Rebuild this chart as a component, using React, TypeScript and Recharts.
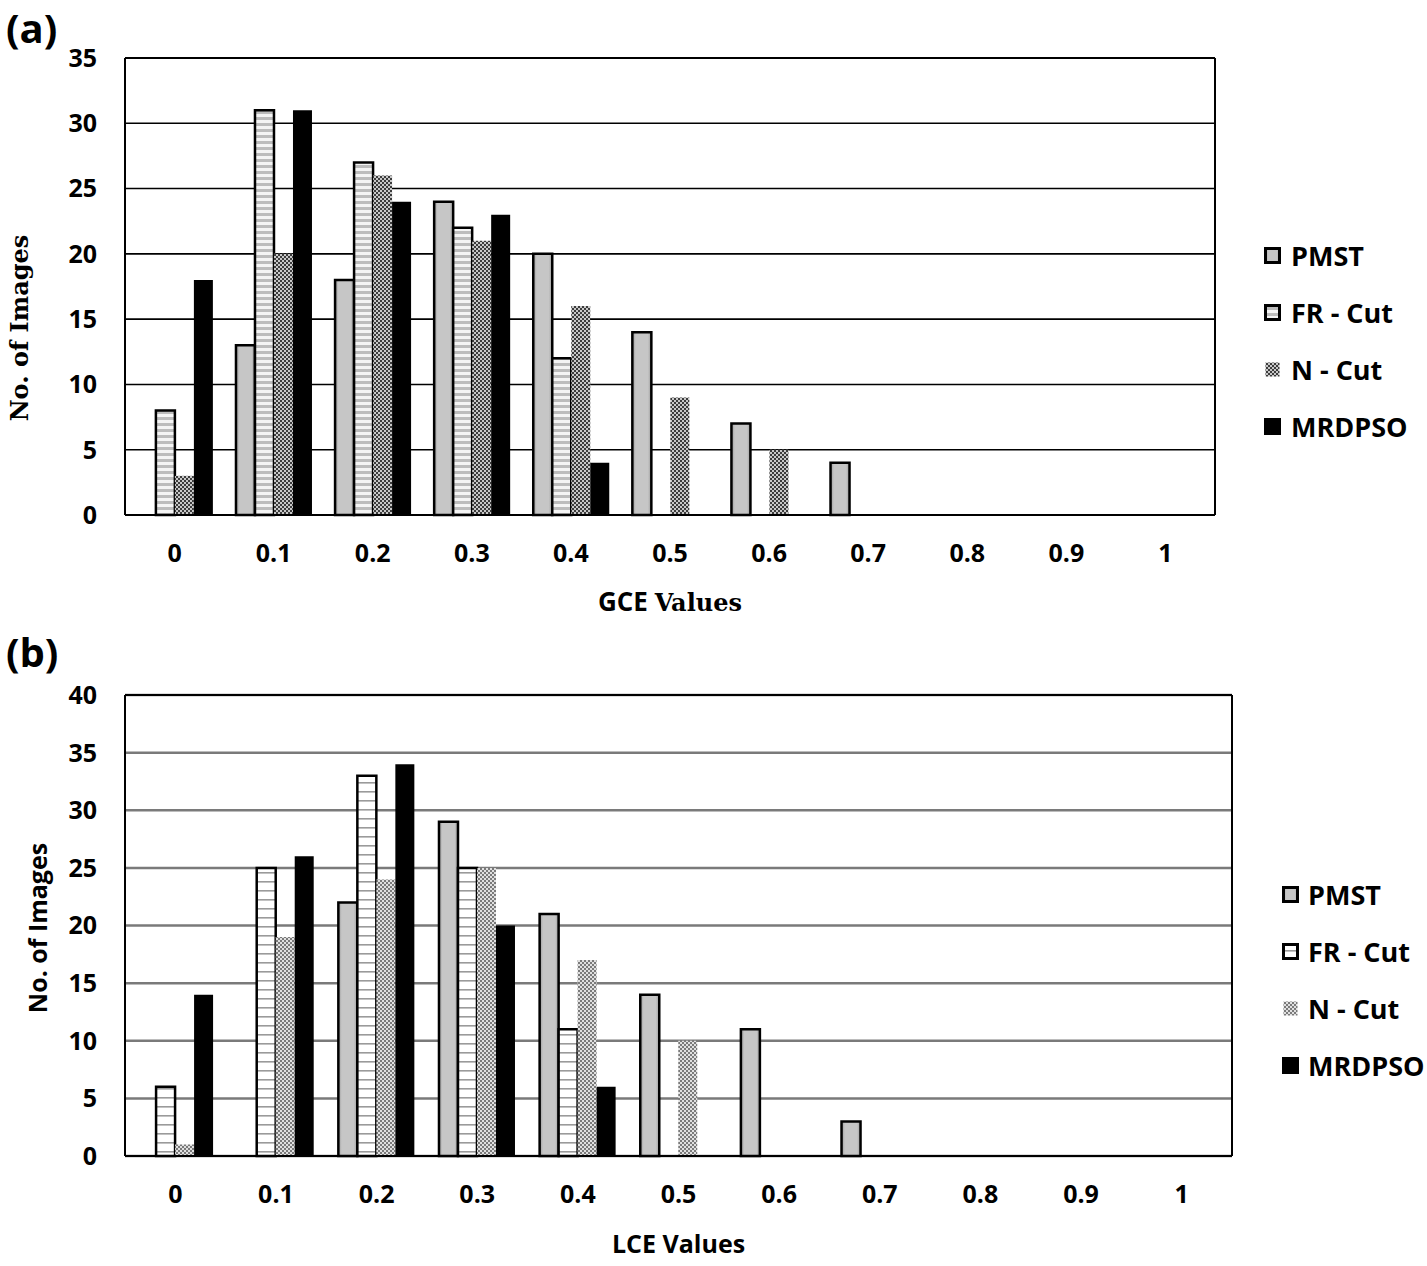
import React from 'react';
import { BarChart, Bar, XAxis, YAxis, CartesianGrid, Legend, ReferenceLine, Label } from 'recharts';

const categories = ['0', '0.1', '0.2', '0.3', '0.4', '0.5', '0.6', '0.7', '0.8', '0.9', '1'];
const seriesNames = ['PMST', 'FR - Cut', 'N - Cut', 'MRDPSO'];

// (a) GCE
const gcePMST = [0, 13, 18, 24, 20, 14, 7, 4, 0, 0, 0];
const gceFR = [8, 31, 27, 22, 12, 0, 0, 0, 0, 0, 0];
const gceNCut = [3, 20, 26, 21, 16, 9, 5, 0, 0, 0, 0];
const gceMRDPSO = [18, 31, 24, 23, 4, 0, 0, 0, 0, 0, 0];
const gceTicks = [0, 5, 10, 15, 20, 25, 30, 35];

// (b) LCE
const lcePMST = [0, 0, 22, 29, 21, 14, 11, 3, 0, 0, 0];
const lceFR = [6, 25, 33, 25, 11, 0, 0, 0, 0, 0, 0];
const lceNCut = [1, 19, 24, 25, 17, 10, 0, 0, 0, 0, 0];
const lceMRDPSO = [14, 26, 34, 20, 6, 0, 0, 0, 0, 0, 0];
const lceTicks = [0, 5, 10, 15, 20, 25, 30, 35, 40];

const SANS = '"Open Sans", Lato, sans-serif';
const SERIF = '"DejaVu Serif", serif';

const buildRows = (a: number[], b: number[], c: number[], d: number[]) =>
  categories.map((cat, i) => ({ cat, pmst: a[i], fr: b[i], ncut: c[i], mrdpso: d[i] }));

const gceData = buildRows(gcePMST, gceFR, gceNCut, gceMRDPSO);
const lceData = buildRows(lcePMST, lceFR, lceNCut, lceMRDPSO);

const Patterns = ({ id, light }: { id: string; light?: boolean }) => (
  <defs>
    <linearGradient id={`${id}-pmst`} x1="0" y1="0" x2="1" y2="0">
      <stop offset="0%" stopColor="#9a9a9a" />
      <stop offset="18%" stopColor="#c6c6c6" />
      <stop offset="82%" stopColor="#c6c6c6" />
      <stop offset="100%" stopColor="#9a9a9a" />
    </linearGradient>
    {light ? (
      <pattern id={`${id}-fr`} patternUnits="userSpaceOnUse" width="8" height="9">
        <rect width="8" height="9" fill="#fff" />
        <rect y="7" width="8" height="1.6" fill="#9a9a9a" />
      </pattern>
    ) : (
      <pattern id={`${id}-fr`} patternUnits="userSpaceOnUse" width="8" height="6">
        <rect width="8" height="6" fill="#f4f4f4" />
        <rect y="3" width="8" height="3" fill="#bcbcbc" />
      </pattern>
    )}
    <pattern id={`${id}-ncut`} patternUnits="userSpaceOnUse" width="4" height="4">
      <rect width="4" height="4" fill={light ? '#e0e0e0' : '#c8c8c8'} />
      <rect width="2" height="2" fill={light ? '#7a7a7a' : '#3c3c3c'} />
      <rect x="2" y="2" width="2" height="2" fill={light ? '#7a7a7a' : '#3c3c3c'} />
    </pattern>
  </defs>
);

const LegendList = ({ id, left, fontSize }: { id: string; left: number; fontSize: number }) => {
  const fills = [`url(#${id}-pmst)`, `url(#${id}-fr)`, `url(#${id}-ncut)`, '#000'];
  const strokes = ['#000', '#000', 'none', '#000'];
  return (
    <div style={{ display: 'flex', flexDirection: 'column' }}>
      {seriesNames.map((n, i) => (
        <div key={n} style={{ display: 'flex', alignItems: 'center', height: 57 }}>
          <svg width={17} height={17} style={{ display: 'block' }}>
            <rect x={1.5} y={1.5} width={14} height={14} fill={fills[i]} stroke={strokes[i]} strokeWidth={3} />
          </svg>
          <span style={{ marginLeft: left, fontFamily: SANS, fontWeight: 700, fontSize, color: '#000' }}>{n}</span>
        </div>
      ))}
    </div>
  );
};

type PanelProps = {
  id: string;
  data: any[];
  ticks: number[];
  height: number;
  margin: { top: number; right: number; bottom: number; left: number };
  light?: boolean;
  gridStroke: string;
  gridWidth: number;
  xLabel: React.ReactNode;
  xLabelDy: number;
  yLabel: React.ReactNode;
  legendPos: { left: number; top: number };
};

const Panel = (p: PanelProps) => {
  const max = p.ticks[p.ticks.length - 1];
  return (
    <BarChart
      width={1427}
      height={p.height}
      data={p.data}
      margin={p.margin}
      barCategoryGap="12%"
      barGap={0}
    >
      <Patterns id={p.id} light={p.light} />
      <CartesianGrid vertical={false} stroke={p.gridStroke} strokeWidth={p.gridWidth} />
      <CartesianGrid
        horizontal={false}
        stroke="#000"
        strokeWidth={2}
        verticalCoordinatesGenerator={({ offset }: any) => [offset.left + offset.width]}
      />
      <ReferenceLine y={max} stroke="#000" strokeWidth={2} />
      <XAxis
        dataKey="cat"
        interval={0}
        tickLine={false}
        axisLine={{ stroke: '#000', strokeWidth: 2 }}
        tickMargin={23}
        height={60}
        tick={{ fontFamily: SANS, fontWeight: 700, fontSize: 25, fill: '#000' }}
      >
        <Label
          content={({ viewBox }: any) => (
            <text
              x={viewBox.x + viewBox.width / 2}
              y={viewBox.y + p.xLabelDy}
              textAnchor="middle"
              fill="#000"
            >
              {p.xLabel}
            </text>
          )}
        />
      </XAxis>
      <YAxis
        domain={[0, max]}
        ticks={p.ticks}
        interval={0}
        width={125}
        tickLine={false}
        axisLine={{ stroke: '#000', strokeWidth: 2 }}
        tickMargin={22}
        tick={{ fontFamily: SANS, fontWeight: 700, fontSize: 25, fill: '#000' }}
      >
        <Label content={() => p.yLabel} />
      </YAxis>
      <Legend
        layout="horizontal"
        verticalAlign="middle"
        align="center"
        wrapperStyle={{ position: 'absolute', left: p.legendPos.left, top: p.legendPos.top, width: 175 }}
        content={() => <LegendList id={p.id} left={p.light ? 9 : 10} fontSize={27} />}
      />
      <Bar dataKey="pmst" name={seriesNames[0]} fill={`url(#${p.id}-pmst)`} stroke="#000" strokeWidth={2.5} isAnimationActive={false} />
      <Bar dataKey="fr" name={seriesNames[1]} fill={`url(#${p.id}-fr)`} stroke="#000" strokeWidth={2.5} isAnimationActive={false} />
      <Bar dataKey="ncut" name={seriesNames[2]} fill={`url(#${p.id}-ncut)`} isAnimationActive={false} />
      <Bar dataKey="mrdpso" name={seriesNames[3]} fill="#000" isAnimationActive={false} />
    </BarChart>
  );
};

const panelLetter: React.CSSProperties = {
  position: 'absolute',
  left: 6,
  fontFamily: SANS,
  fontWeight: 700,
  fontSize: 40,
  lineHeight: '56px',
  color: '#000',
};

export default function App() {
  return (
    <div style={{ position: 'absolute', left: 0, top: 0, width: 1427, height: 1266, background: '#fff', overflow: 'hidden' }}>
      <div style={{ position: 'absolute', left: 0, top: 0 }}>
        <Panel
          id="gce"
          data={gceData}
          ticks={gceTicks}
          height={640}
          margin={{ top: 58, right: 212, bottom: 65, left: 0 }}
          gridStroke="#000"
          gridWidth={1.6}
          xLabelDy={96}
          xLabel={
            <>
              <tspan fontFamily={SANS} fontWeight={700} fontSize={26}>GCE </tspan>
              <tspan fontFamily={SERIF} fontWeight={700} fontSize={24}>Values</tspan>
            </>
          }
          yLabel={
            <text
              x={28}
              y={328}
              transform="rotate(-90 28 328)"
              textAnchor="middle"
              fontFamily={SERIF}
              fontWeight={700}
              fontSize={24}
              fill="#000"
            >
              No. of Images
            </text>
          }
          legendPos={{ left: 1264, top: 227 }}
        />
      </div>
      <div style={{ position: 'absolute', left: 0, top: 640 }}>
        <Panel
          id="lce"
          light
          data={lceData}
          ticks={lceTicks}
          height={626}
          margin={{ top: 55, right: 195, bottom: 50, left: 0 }}
          gridStroke="#7a7a7a"
          gridWidth={2.5}
          xLabelDy={97}
          xLabel={
            <tspan fontFamily={SANS} fontWeight={700} fontSize={25}>LCE Values</tspan>
          }
          yLabel={
            <text
              x={47}
              y={288}
              transform="rotate(-90 47 288)"
              textAnchor="middle"
              fontFamily={SANS}
              fontWeight={700}
              fontSize={25}
              fill="#000"
            >
              No. of Images
            </text>
          }
          legendPos={{ left: 1282, top: 226 }}
        />
      </div>
      <div style={{ ...panelLetter, top: 0 }}>(a)</div>
      <div style={{ ...panelLetter, top: 624 }}>(b)</div>
    </div>
  );
}
